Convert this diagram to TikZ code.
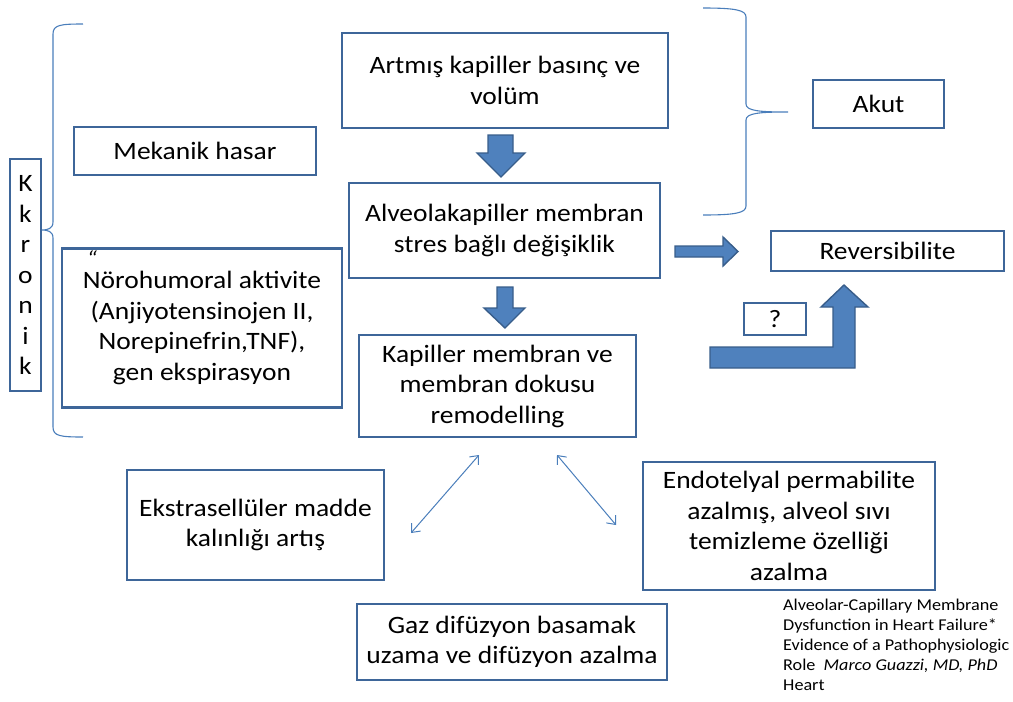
\documentclass[tikz,border=0pt]{standalone}
\usepackage{fontspec}
\setmainfont{Carlito}[FakeStretch=1.1]
\usetikzlibrary{arrows.meta}
\definecolor{boxline}{HTML}{3E6699}
\definecolor{arrfill}{HTML}{4F81BD}
\definecolor{arrline}{HTML}{385D8A}
\definecolor{thinblue}{HTML}{4A7EBB}

\begin{document}
\begin{tikzpicture}[
    x=1pt, y=-1pt,
    box/.style={
        draw=boxline, line width=2.8pt, fill=white,
        align=center, inner sep=0pt,
        font=\fontsize{25}{30.5}\selectfont
    },
    blk/.style={fill=arrfill, draw=arrline, line width=1.4pt, line join=miter},
    dbl/.style={draw=thinblue, line width=1pt,
        {Straight Barb[length=7pt,width=12pt]}-{Straight Barb[length=7pt,width=12pt]}},
    brc/.style={draw=thinblue, line width=1.1pt}
]
\useasboundingbox (0,0) rectangle (1013,702);

% boxes
\node[box, minimum width=326, minimum height=95] (art) at (505,80.5) {Artmış kapiller basınç ve\\volüm};
\node[box, minimum width=311, minimum height=95] (alv) at (504.5,230.5) {Alveolakapiller membran\\stres bağlı değişiklik};
\node[box, minimum width=277, minimum height=102] (rem) at (497.5,386) {Kapiller membran ve\\membran dokusu\\remodelling};
\node[box, minimum width=242, minimum height=48] (mek) at (195,151) {Mekanik hasar};
\node[box, minimum width=280, minimum height=159] (nor) at (202,328) {Nörohumoral aktivite\\(Anjiyotensinojen II,\\Norepinefrin,TNF),\\gen ekspirasyon};
\node[font=\fontsize{22}{22}\selectfont\itshape, inner sep=0pt, anchor=north] (quo) at (92,250) {“};
\node[box, minimum width=31, minimum height=232] (kro) at (25.5,275) {K\\k\\r\\o\\n\\i\\k};
\node[box, minimum width=131, minimum height=48] (akut) at (878.5,104) {Akut};
\node[box, minimum width=233, minimum height=40] (rev) at (887.5,251) {Reversibilite};
\node[box, minimum width=62, minimum height=32] (soru) at (775,319) {?};
\node[box, minimum width=257, minimum height=110] (eks) at (255.5,525) {Ekstrasellüler madde\\kalınlığı artış};
\node[box, minimum width=292, minimum height=128] (endo) at (789,526) {Endotelyal permabilite\\azalmış, alveol sıvı\\temizleme özelliği\\azalma};
\node[box, minimum width=310, minimum height=76] (gaz) at (512,642) {Gaz difüzyon basamak\\uzama ve difüzyon azalma};
\node[anchor=north west, align=left, inner sep=0pt,
      font=\fontsize{16.5}{20}\selectfont] (kaynak) at (783,599)
    {Alveolar-Capillary Membrane\\Dysfunction in Heart Failure*\\Evidence of a Pathophysiologic\\Role\ \ \textit{Marco Guazzi, MD, PhD}\\Heart};

% block arrows
\draw[blk] (488,135) -- (513,135) -- (513,153) -- (525,153) -- (501,177)
    -- (477,153) -- (488,153) -- cycle;
\draw[blk] (497,287) -- (513,287) -- (513,308) -- (525,308) -- (505,328)
    -- (484,308) -- (497,308) -- cycle;
\draw[blk] (675,246) -- (723,246) -- (723,237) -- (738,251.5) -- (723,266)
    -- (723,257) -- (675,257) -- cycle;
\draw[blk] (710,347) -- (833,347) -- (833,307) -- (821,307) -- (844,285)
    -- (868,307) -- (855,307) -- (855,368) -- (710,368) -- cycle;

% thin double arrows
\coordinate (r1) at (479,455);
\coordinate (e1) at (411,533);
\coordinate (r2) at (557,455);
\coordinate (n2) at (616,525);
\draw[dbl] (e1) -- (r1);
\draw[dbl] (r2) -- (n2);

% braces
\draw[brc] (83,24) .. controls (60,24) and (53,25) .. (53,34) -- (53,222)
    .. controls (53,229) and (47,230) .. (42,230)
    .. controls (47,230) and (53,231) .. (53,238) -- (53,427)
    .. controls (53,436) and (60,437) .. (83,437);
\draw[brc] (703,8) .. controls (735,8) and (746,10) .. (746,17) -- (746,104)
    .. controls (746,111) and (760,112) .. (788,112)
    .. controls (760,112) and (746,113) .. (746,120) -- (746,206)
    .. controls (746,213) and (735,215) .. (703,215);
\end{tikzpicture}
\end{document}
